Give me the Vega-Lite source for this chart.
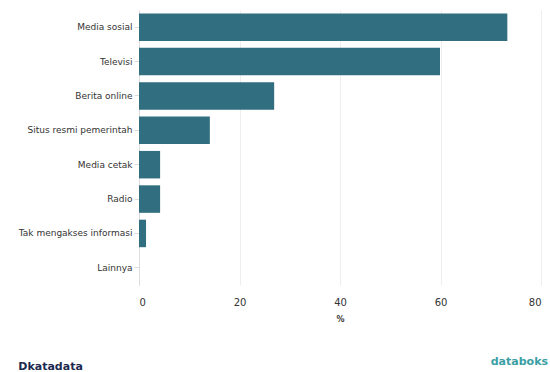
{
  "$schema": "https://vega.github.io/schema/vega-lite/v6.json",
  "padding": {"left": 18, "top": 10, "right": 0, "bottom": 0},
  "background": "white",
  "config": {
    "view": {"stroke": null},
    "font": "DejaVu Sans"
  },
  "title": {"text": "databoks", "orient": "bottom", "anchor": "end", "font": "DejaVu Sans", "fontSize": 11, "fontWeight": "bold", "color": "#3a9ea5", "offset": -16, "dx": 7},
  "vconcat": [
    {
      "width": 402,
      "height": 275,
      "title": {"text": "Dkatadata", "orient": "bottom", "anchor": "start", "frame": "bounds", "font": "DejaVu Sans", "fontSize": 11, "fontWeight": "bold", "color": "#1b2a4e", "offset": 38, "dx": 0},
      "data": {"values": [
        {"kategori": "Media sosial", "persen": 73.3},
        {"kategori": "Televisi", "persen": 59.9},
        {"kategori": "Berita online", "persen": 26.9},
        {"kategori": "Situs resmi pemerintah", "persen": 14.1},
        {"kategori": "Media cetak", "persen": 4.2},
        {"kategori": "Radio", "persen": 4.2},
        {"kategori": "Tak mengakses informasi ", "persen": 1.4},
        {"kategori": "Lainnya", "persen": 0}
      ]},
      "mark": {"type": "bar", "color": "#316f80"},
      "encoding": {
        "y": {
          "field": "kategori", "type": "nominal", "sort": null,
          "scale": {"paddingInner": 0.2, "paddingOuter": 0.1},
          "axis": {"title": null, "labelFontSize": 9, "labelColor": "#333333", "labelPadding": 2, "tickSize": 5, "tickColor": "#dddddd", "domainColor": "#dddddd", "labelFont": "DejaVu Sans"}
        },
        "x": {
          "field": "persen", "type": "quantitative",
          "scale": {"domain": [0, 80], "nice": false},
          "axis": {"title": "%", "values": [0, 20, 40, 60, 80], "labelFontSize": 10, "labelColor": "#333333", "titleFontSize": 8, "titleFontWeight": "bold", "titleColor": "#333333", "titlePadding": 8, "domain": false, "ticks": false, "labelPadding": 12, "gridColor": "#eeeeee", "labelFont": "DejaVu Sans", "titleFont": "DejaVu Sans"}
        }
      }
    }
  ]
}
